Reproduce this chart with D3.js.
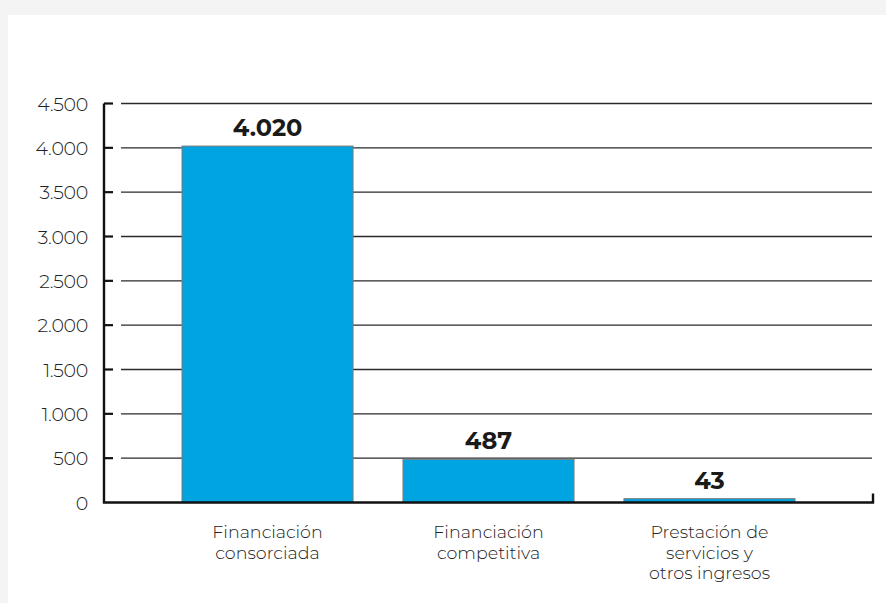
<!DOCTYPE html>
<html>
<head>
<meta charset="utf-8">
<script src="https://cdn.jsdelivr.net/npm/d3@7"></script>
<style>
  body { margin: 0; background: #f4f4f4; }
  svg { display: block; }
</style>
</head>
<body>
<svg width="886" height="603"></svg>
<script>
// data
var categories = [["Financiación", "consorciada"], ["Financiación", "competitiva"], ["Prestación de", "servicios y", "otros ingresos"]];
var values = [4020, 487, 43];
var valueLabels = ["4.020", "487", "43"];
var yTicks = [0, 500, 1000, 1500, 2000, 2500, 3000, 3500, 4000, 4500];

var svg = d3.select("svg");

// white panel
svg.append("rect")
    .attr("x", 8).attr("y", 15)
    .attr("width", 878).attr("height", 588)
    .attr("fill", "#fff");

var x = d3.scaleBand()
    .domain(d3.range(values.length))
    .range([104, 873])
    .paddingInner(0.226)
    .paddingOuter(0.353);

var y = d3.scaleLinear()
    .domain([0, 4500])
    .range([502.5, 103.5]);

var fmt = function(d) { return d3.format(",")(d).replace(/,/g, "."); };

// gridlines
svg.append("g").selectAll("line")
    .data(yTicks.slice(1))
    .enter().append("line")
    .attr("x1", 121).attr("x2", 872)
    .attr("y1", function(d) { return y(d); })
    .attr("y2", function(d) { return y(d); })
    .attr("stroke", "#2a2a2a")
    .attr("stroke-width", 1.3);

// y axis
var yAxis = d3.axisLeft(y).tickValues(yTicks).tickSize(0).tickPadding(16).tickFormat(fmt);
var gy = svg.append("g").attr("transform", "translate(104,0)").call(yAxis);
gy.select(".domain").remove();
gy.selectAll("text")
    .attr("font-family", "Montserrat, 'Open Sans', sans-serif")
    .attr("font-weight", 300)
    .attr("font-size", 19)
    .attr("letter-spacing", -0.3)
    .attr("fill", "#222")
    .attr("dy", "0.35em");

// small tick marks
svg.append("g").selectAll("line")
    .data(yTicks.slice(1))
    .enter().append("line")
    .attr("x1", 104).attr("x2", 113)
    .attr("y1", function(d) { return y(d); })
    .attr("y2", function(d) { return y(d); })
    .attr("stroke", "#111")
    .attr("stroke-width", 2.2);

// bars
svg.append("g").selectAll("rect")
    .data(values)
    .enter().append("rect")
    .attr("x", function(d, i) { return x(i); })
    .attr("y", function(d) { return y(d); })
    .attr("width", x.bandwidth())
    .attr("height", function(d) { return y(0) - y(d); })
    .attr("fill", "#00a4e1")
    .attr("stroke", "#7a7a7a")
    .attr("stroke-width", 1);

// axis lines
svg.append("path")
    .attr("d", "M104," + y(4500) + "V" + y(0) + "H873V" + (y(0) - 9))
    .attr("fill", "none")
    .attr("stroke", "#111")
    .attr("stroke-width", 2.4);

// value labels
svg.append("g").selectAll("text")
    .data(values)
    .enter().append("text")
    .attr("x", function(d, i) { return x(i) + x.bandwidth() / 2; })
    .attr("y", function(d) { return y(d) - 10; })
    .attr("text-anchor", "middle")
    .attr("font-family", "Montserrat, 'Open Sans', sans-serif")
    .attr("font-weight", 700)
    .attr("font-size", 24)
    .attr("fill", "#1a1a1a")
    .text(function(d, i) { return valueLabels[i]; });

// category labels
var cat = svg.append("g").selectAll("text")
    .data(categories)
    .enter().append("text")
    .attr("x", function(d, i) { return x(i) + x.bandwidth() / 2; })
    .attr("y", 538)
    .attr("text-anchor", "middle")
    .attr("font-family", "Montserrat, 'Open Sans', sans-serif")
    .attr("font-weight", 300)
    .attr("font-size", 17.5)
    .attr("fill", "#222");
cat.selectAll("tspan")
    .data(function(d) { return d; })
    .enter().append("tspan")
    .attr("x", function() { return d3.select(this.parentNode).attr("x"); })
    .attr("dy", function(d, i) { return i ? 20.5 : 0; })
    .text(function(d) { return d; });
</script>
</body>
</html>
